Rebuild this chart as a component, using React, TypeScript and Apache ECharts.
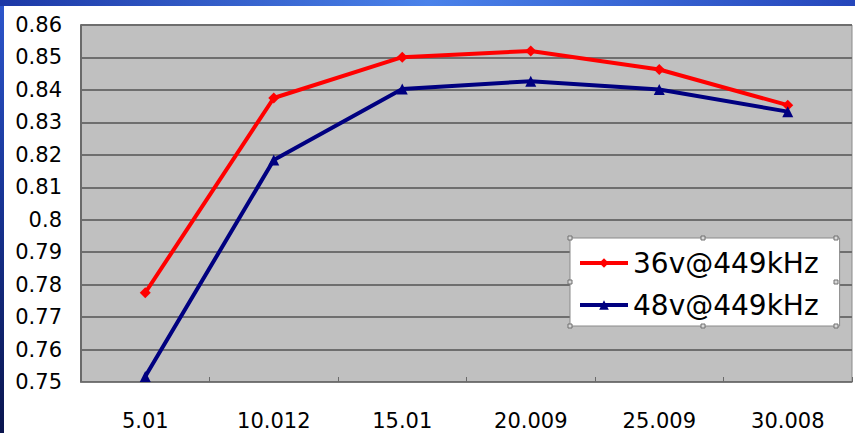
import React, { useEffect, useRef } from "react";
import * as echarts from "echarts";

// Frequency points on the x axis
const categories = ["5.01", "10.012", "15.01", "20.009", "25.009", "30.008"];
// Efficiency readings for each input voltage
const series36v = [0.7775, 0.8375, 0.8501, 0.852, 0.8463, 0.8353];
const series48v = [0.7517, 0.8184, 0.8403, 0.8427, 0.8401, 0.8333];
const seriesNames = ["36v@449kHz", "48v@449kHz"];

const yMin = 0.75;
const yMax = 0.86;
const yStep = 0.01;

const FONT = "'DejaVu Sans', Arial, sans-serif";

export default function App() {
  const ref = useRef<HTMLDivElement>(null);

  useEffect(() => {
    if (!ref.current) return;
    const chart = echarts.init(ref.current, undefined, { renderer: "svg" });

    // selection handles around the legend box
    const lx0 = 570, ly0 = 238, lx1 = 836, ly1 = 326;
    const hx = [lx0, (lx0 + lx1) / 2, lx1];
    const hy = [ly0, (ly0 + ly1) / 2, ly1];
    const handles: any[] = [];
    hx.forEach((x, i) =>
      hy.forEach((y, j) => {
        if (i === 1 && j === 1) return;
        handles.push({
          type: "rect",
          shape: { x: x - 2, y: y - 2, width: 4, height: 4 },
          style: { fill: "#d8d8d8", stroke: "#707070", lineWidth: 1 },
          z: 100,
        });
      })
    );

    chart.setOption({
      animation: false,
      backgroundColor: "transparent",
      grid: {
        left: 81,
        top: 25,
        right: 3,
        bottom: 51,
        containLabel: false,
        show: true,
        backgroundColor: "#c0c0c0",
        borderColor: "#8a8a8a",
        borderWidth: 1,
      },
      legend: {
        orient: "vertical",
        left: lx0,
        top: ly0,
        padding: [9, 21, 5, 8],
        itemGap: 10,
        itemWidth: 48,
        itemHeight: 12,
        backgroundColor: "#ffffff",
        borderColor: "#8a8a8a",
        borderWidth: 1,
        lineStyle: { width: 4 },
        textStyle: {
          fontFamily: FONT,
          fontSize: 28,
          color: "#000000",
          lineHeight: 32,
        },
        data: seriesNames,
      },
      xAxis: {
        type: "category",
        data: categories,
        boundaryGap: true,
        axisLine: { show: true, lineStyle: { color: "#7a7a7a", width: 1 } },
        axisTick: {
          show: true,
          inside: true,
          length: 5,
          lineStyle: { color: "#6a6a6a", width: 1 },
        },
        axisLabel: {
          fontFamily: FONT,
          fontSize: 21,
          color: "#000000",
          margin: 28,
        },
        splitLine: { show: false },
      },
      yAxis: {
        type: "value",
        min: yMin,
        max: yMax,
        interval: yStep,
        axisLine: { show: true, lineStyle: { color: "#6a6a6a", width: 2 } },
        axisTick: { show: false },
        axisLabel: {
          fontFamily: FONT,
          fontSize: 21,
          color: "#000000",
          margin: 19,
          formatter: (v: number) => String(Number(v.toFixed(2))),
        },
        splitLine: { show: true, lineStyle: { color: "#6e6e6e", width: 2 } },
      },
      series: [
        {
          name: seriesNames[0],
          type: "line",
          data: series36v,
          symbol: "diamond",
          symbolSize: 11,
          lineStyle: { color: "#ff0000", width: 4 },
          itemStyle: { color: "#ff0000" },
        },
        {
          name: seriesNames[1],
          type: "line",
          data: series48v,
          symbol: "triangle",
          symbolSize: 11,
          lineStyle: { color: "#000080", width: 4 },
          itemStyle: { color: "#000080" },
        },
      ],
      graphic: handles,
    });

    return () => chart.dispose();
  }, []);

  return (
    <div
      style={{
        position: "fixed",
        left: 0,
        top: 0,
        width: 855,
        height: 433,
        background:
          "linear-gradient(90deg, #1c38a6 0%, #4a82ea 50%, #2546bb 100%) top / 100% 6px no-repeat, linear-gradient(180deg, #2d56cc 0%, #183596 45%, #0a154e 100%)",
        overflow: "hidden",
      }}
    >
      <div
        style={{
          position: "absolute",
          left: 4,
          top: 6,
          width: 851,
          height: 427,
          background: "#ffffff",
        }}
      />
      <div
        ref={ref}
        style={{ position: "absolute", left: 0, top: 0, width: 855, height: 433 }}
      />
    </div>
  );
}
